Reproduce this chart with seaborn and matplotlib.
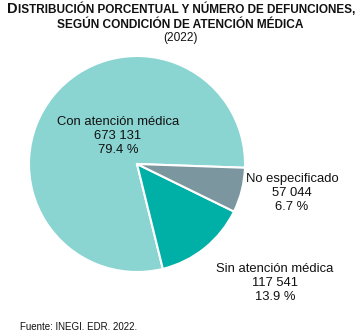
import matplotlib
matplotlib.use("Agg")
import matplotlib.pyplot as plt
import seaborn as sns

categories = ["Con atención médica", "Sin atención médica", "No especificado"]
deaths = [673131, 117541, 57044]
percents = [79.4, 13.9, 6.7]
count_labels = ["673 131", "117 541", "57 044"]
pct_labels = ["79.4 %", "13.9 %", "6.7 %"]
colors = ["#8AD5D2", "#00AFA6", "#7B969F"]

sns.set_theme(style="white")
plt.rcParams['font.family'] = ['Liberation Sans', 'DejaVu Sans']

W, H = 360, 336
fig = plt.figure(figsize=(W / 100, H / 100), dpi=100)
ax = fig.add_axes([0, 0, 1, 1])

cx, cy, r = 137, H - 164, 108
ax.pie(percents, colors=colors, startangle=-2, counterclock=True,
       center=(cx, cy), radius=r,
       wedgeprops=dict(edgecolor="white", linewidth=1.5))
ax.set_xlim(0, W)
ax.set_ylim(0, H)
ax.set_aspect("equal")
ax.axis("off")

label_pos = [(118, 136), (275, 283), (292, 193)]
for cat, cnt, pct, (x, y) in zip(categories, count_labels, pct_labels, label_pos):
    ax.text(x, H - y, f"{cat}\n{cnt}\n{pct}", ha="center", va="center",
            fontsize=9.4, linespacing=1.17, color="#111111")

# Title (small caps emulation)
t1 = ax.text(7, H - 13, "D", fontsize=10.5, fontweight="bold", ha="left",
             va="baseline", color="#111111")
ax.annotate("ISTRIBUCIÓN PORCENTUAL Y NÚMERO DE DEFUNCIONES,",
            xy=(1, 0), xycoords=t1, fontsize=8.5, fontweight="bold",
            ha="left", va="bottom", color="#111111", annotation_clip=False)
ax.text(180, H - 28, "SEGÚN CONDICIÓN DE ATENCIÓN MÉDICA", fontsize=8.6,
        fontweight="bold", ha="center", va="baseline", color="#111111")
ax.text(180, H - 38, "(2022)", fontsize=8.6, ha="center", va="center",
        color="#111111")

ax.text(20, H - 327, "Fuente: INEGI. EDR. 2022.", fontsize=7, ha="left",
        va="center", color="#111111")

fig.savefig("out.png", dpi=100)
